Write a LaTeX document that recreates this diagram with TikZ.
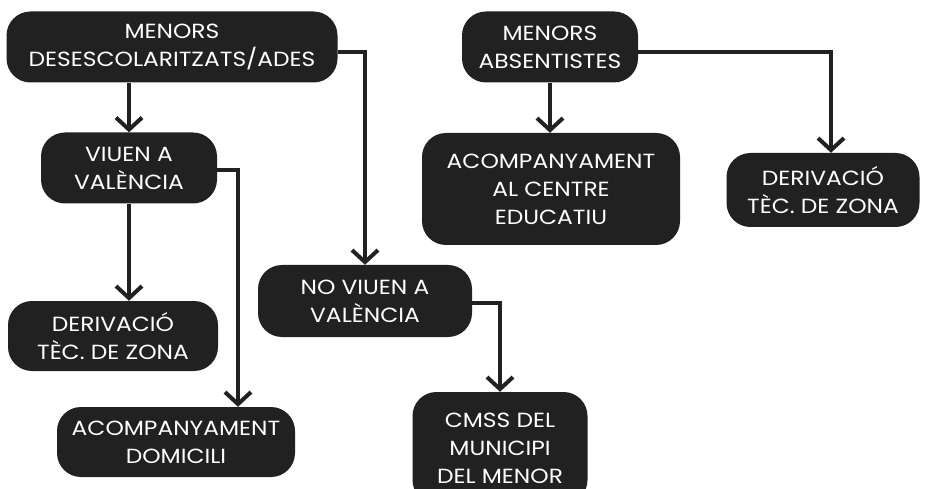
\documentclass[tikz,border=0pt]{standalone}
\usepackage{fontspec}
\setmainfont{Poppins}[FakeStretch=1.14]
\usetikzlibrary{arrows.meta}

\begin{document}
\begin{tikzpicture}
		[x=1pt,y=-1pt,line cap=butt,
		%Styles
		box/.style={fill=boxcolor,text=white,rounded corners=24pt,align=center,inner sep=0pt,font=\fontsize{20.5}{28}\selectfont},
		flow/.style={draw=boxcolor,line width=4pt,-{Straight Barb[length=12pt,width=26pt,line width=4pt]}}
		]
		
		%Colors
		\colorlet{boxcolor}{black!87}	%boxes and arrows
		
		\fill[white] (0,0) rectangle (932,489);
		\useasboundingbox (0,0) rectangle (932,489);
		
		%The boxes
		\node[box,minimum width=331pt,minimum height=71pt] (desc) at (172,47) {MENORS\\DESESCOLARITZATS/ADES};
		\node[box,minimum width=176pt,minimum height=71pt] (absent) at (550,47) {MENORS\\ABSENTISTES};
		\node[box,minimum width=176pt,minimum height=71pt] (viuen) at (129,168) {VIUEN A\\VALÈNCIA};
		\node[box,minimum width=258pt,minimum height=112pt] (centre) at (551,189) {ACOMPANYAMENT\\AL CENTRE\\EDUCATIU};
		\node[box,minimum width=193pt,minimum height=74pt] (tecb) at (823,190) {DERIVACIÓ\\TÈC. DE ZONA};
		\node[box,minimum width=214pt,minimum height=72pt] (noviuen) at (365,301) {NO VIUEN A\\VALÈNCIA};
		\node[box,minimum width=210pt,minimum height=70pt] (teca) at (113,336) {DERIVACIÓ\\TÈC. DE ZONA};
		\node[box,minimum width=238pt,minimum height=70pt] (domicili) at (176,442) {ACOMPANYAMENT\\DOMICILI};
		\node[box,minimum width=175pt,minimum height=112pt] (cmss) at (500,448) {CMSS DEL\\MUNICIPI\\DEL MENOR};
		
		%The arrows
		\draw[flow] (viuen.north |- desc.south) -- (viuen.north);
		\draw[flow] ([yshift=-5pt]desc.east) -| (noviuen.north);
		\draw[flow] (viuen.south) -- (viuen.south |- teca.north);
		\draw[flow] ([yshift=-2pt]viuen.east) -| ([xshift=62pt]domicili.north);
		\draw[flow] ([yshift=-2pt]noviuen.east) -| (cmss.north);
		\draw[flow] (absent.south) -- (absent.south |- centre.north);
		\draw[flow] ([yshift=-5pt]absent.east) -| ([xshift=8pt]tecb.north);
	\end{tikzpicture}
\end{document}
